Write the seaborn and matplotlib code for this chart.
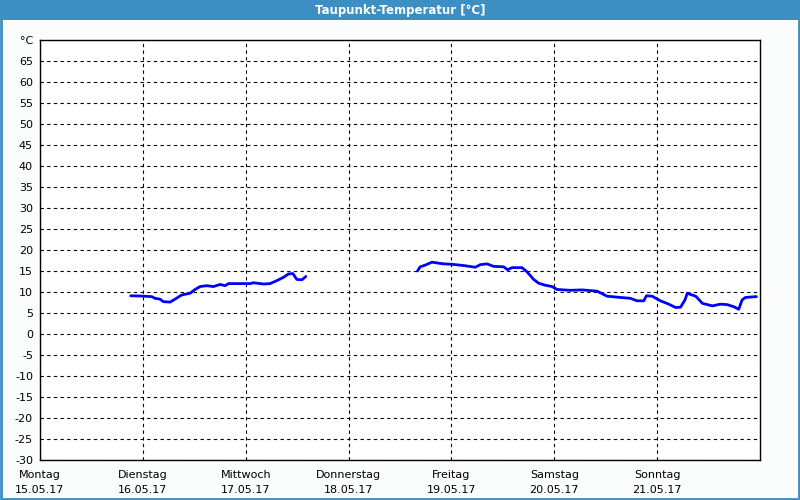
import numpy as np
import pandas as pd
import matplotlib
matplotlib.use("Agg")
import matplotlib.pyplot as plt
from matplotlib.patches import Rectangle
import seaborn as sns

# --- data (x = days since Monday 15.05.17 00:00, y = dew point in °C) ---
seg1_day = [0.882, 0.973, 1.086, 1.119, 1.167, 1.199, 1.265, 1.313, 1.378, 1.459, 1.508,
            1.556, 1.621, 1.686, 1.751, 1.800, 1.832, 2.043, 2.075, 2.173, 2.237, 2.302,
            2.367, 2.416, 2.458, 2.497, 2.546, 2.585]
seg1_temp = [9.1, 9.05, 8.9, 8.5, 8.3, 7.7, 7.6, 8.3, 9.3, 9.7, 10.6,
             11.3, 11.5, 11.3, 11.8, 11.5, 12.0, 12.0, 12.2, 11.9, 12.0, 12.7,
             13.5, 14.3, 14.4, 13.0, 12.9, 13.7]

seg2_day = [3.670, 3.696, 3.745, 3.810, 3.923, 4.005, 4.118, 4.232, 4.280, 4.346, 4.410,
            4.507, 4.546, 4.589, 4.686, 4.735, 4.799, 4.848, 4.913, 4.978, 5.027, 5.156,
            5.270, 5.416, 5.513, 5.643, 5.740, 5.805, 5.870, 5.896, 5.951, 6.032, 6.114,
            6.180, 6.228, 6.270, 6.293, 6.326, 6.375, 6.440, 6.537, 6.615, 6.680, 6.745,
            6.793, 6.826, 6.858, 6.965]
seg2_temp = [15.0, 16.0, 16.4, 17.1, 16.7, 16.6, 16.3, 15.9, 16.5, 16.7, 16.1,
             16.0, 15.3, 15.8, 15.8, 14.8, 13.0, 12.1, 11.6, 11.3, 10.6, 10.4,
             10.5, 10.2, 9.0, 8.7, 8.5, 7.9, 7.9, 9.1, 9.0, 7.9, 7.1,
             6.3, 6.4, 8.1, 9.7, 9.4, 9.0, 7.3, 6.7, 7.1, 7.0, 6.5,
             5.9, 8.1, 8.7, 8.9]

day_names = ["Montag", "Dienstag", "Mittwoch", "Donnerstag", "Freitag", "Samstag", "Sonntag"]
dates = ["15.05.17", "16.05.17", "17.05.17", "18.05.17", "19.05.17", "20.05.17", "21.05.17"]
y_ticks = list(range(-30, 70, 5))

df = pd.DataFrame({
    "day": seg1_day + seg2_day,
    "temp": seg1_temp + seg2_temp,
    "seg": [1] * len(seg1_day) + [2] * len(seg2_day),
})

sns.set_style("white")
plt.rcParams["font.family"] = ["DejaVu Sans"]

fig = plt.figure(figsize=(8, 5), dpi=100)
fig.patch.set_facecolor("#FBFDFC")

# title bar and window border
fig.patches.append(Rectangle((0, 0.96), 1, 0.04, transform=fig.transFigure,
                             facecolor="#3C8FC3", edgecolor="none", zorder=0))
fig.patches.append(Rectangle((0.001, 0.002), 0.998, 0.996, transform=fig.transFigure,
                             facecolor="none", edgecolor="#3C8FC3", linewidth=2, zorder=0))
fig.text(0.5, 0.979, "Taupunkt-Temperatur [°C]", color="white", fontsize=8.5,
         fontweight="bold", ha="center", va="center")

ax = fig.add_axes([0.05, 0.08, 0.90, 0.84])
ax.set_facecolor("white")

sns.lineplot(data=df, x="day", y="temp", units="seg", estimator=None,
             color="#0000FF", linewidth=2.0, ax=ax, legend=False)

ax.set_xlim(0, 7)
ax.set_ylim(-30, 70)

ax.set_yticks(y_ticks + [70])
ax.set_yticklabels([str(v) for v in y_ticks] + ["°C"], fontsize=8)
ax.set_xticks(range(7))
ax.set_xticklabels([f"{d}\n{t}" for d, t in zip(day_names, dates)], fontsize=8,
                   linespacing=1.6)

ax.grid(True, color="black", linestyle=(0, (3, 3)), linewidth=0.8)
ax.tick_params(axis="y", length=3, width=0.8, pad=2, colors="black")
ax.tick_params(axis="x", length=3, width=0.8, pad=4, colors="black")
for s in ax.spines.values():
    s.set_visible(True)
    s.set_color("black")
    s.set_linewidth(1.0)
ax.set_xlabel("")
ax.set_ylabel("")

fig.savefig("out.png", dpi=100, facecolor=fig.get_facecolor())
